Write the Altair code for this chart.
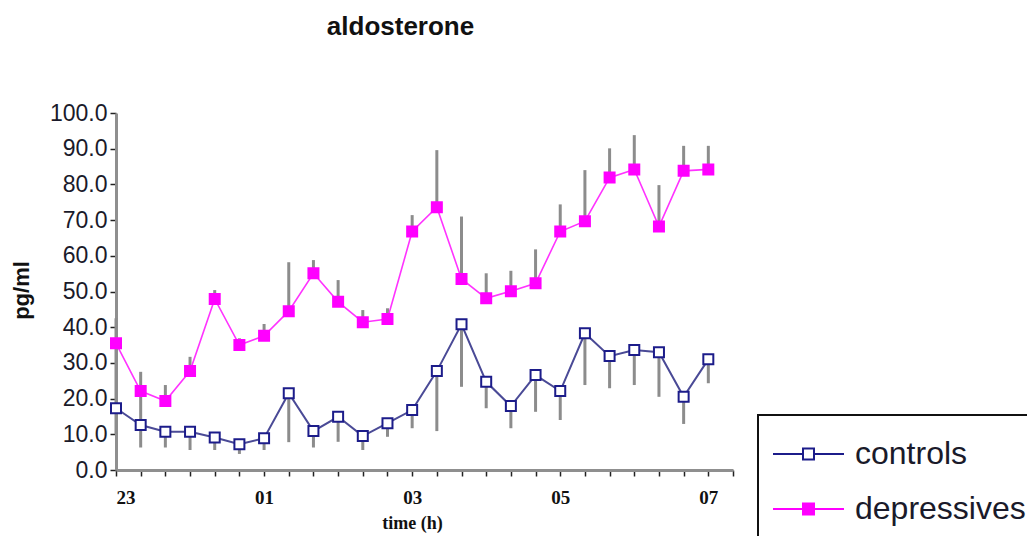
import altair as alt
import pandas as pd

# ---- data (20-minute samples, 23:00 -> 07:00) ----
hour_labels = ["23", "01", "03", "05", "07"]
slots = list(range(25))

controls = [17.3, 12.6, 10.7, 10.7, 9.1, 7.2, 8.9, 21.5, 10.9, 14.9, 9.5, 13.1, 16.8,
            27.7, 40.8, 24.7, 17.9, 26.6, 22.1, 38.3, 31.9, 33.6, 33.0, 20.5, 31.0]
controls_err_lo = [10.0, 6.3, 6.3, 5.6, 5.6, 4.5, 5.6, 7.8, 6.3, 7.9, 5.6, 9.3, 11.7,
                   10.9, 23.3, 17.3, 11.7, 16.3, 14.0, 23.8, 22.9, 23.8, 20.5, 12.9, 24.3]

depressives = [35.5, 22.1, 19.3, 27.7, 47.9, 35.0, 37.6, 44.5, 55.1, 47.1, 41.4, 42.3, 66.8,
               73.6, 53.5, 48.1, 50.1, 52.3, 66.8, 69.7, 81.9, 84.2, 68.2, 83.8, 84.2]
depressives_err_hi = [42.5, 27.5, 23.8, 31.7, 50.4, 36.9, 40.9, 58.2, 58.8, 53.2, 44.8, 45.3, 71.4,
                      89.6, 71.0, 55.1, 55.8, 61.8, 74.4, 84.0, 90.1, 93.8, 79.8, 90.8, 90.8]
depressives_err_lo = [17.3, 12.6] + depressives[2:]

series_names = ["controls", "depressives"]
stroke_colors = ["#1c1c8a", "#ff00ff"]
fill_colors = ["#ffffff", "#ff00ff"]
line_colors = ["#4a4a96", "#ff33ff"]

rows = []
for i in slots:
    rows.append(dict(t=i, series="controls", v=controls[i], lo=controls_err_lo[i], hi=controls[i]))
    rows.append(dict(t=i, series="depressives", v=depressives[i], lo=depressives_err_lo[i],
                     hi=depressives_err_hi[i]))
df = pd.DataFrame(rows)

label_map = "{" + ",".join(f"'{i * 6}':'{h}'" for i, h in enumerate(hour_labels)) + "}"
label_expr = f"({label_map})[''+datum.value] || ''"

x_enc = alt.X(
    "t:Q",
    scale=alt.Scale(domain=[0, 25], nice=False, zero=False),
    axis=alt.Axis(
        values=list(range(26)),
        labelExpr=label_expr,
        title="time (h)",
        titleFont="Liberation Serif",
        titleFontSize=18,
        titleFontWeight="bold",
        titleColor="#111111",
        titlePadding=7,
        titleX=296,
        labelFont="Liberation Serif",
        labelFontSize=19,
        labelFontWeight="bold",
        labelColor="#111111",
        labelPadding=12,
        tickSize=6,
        grid=False,
    ),
)

y_axis = alt.Axis(
    values=[0, 10, 20, 30, 40, 50, 60, 70, 80, 90, 100],
    format=".1f",
    title="pg/ml",
    titleFont="Liberation Sans",
    titleFontSize=22,
    titleFontWeight="bold",
    titleColor="#111111",
    titleX=-95,
    titleY=177,
    titleAngle=270,
    titleAlign="center",
    titleBaseline="middle",
    labelFont="Liberation Sans",
    labelFontSize=23,
    labelColor="#1a1a2a",
    labelPadding=3,
    tickSize=6,
    grid=False,
)
y_scale = alt.Scale(domain=[0, 100], nice=False)

base = alt.Chart(df)

errbars = base.mark_rule(color="#8c8c8c", strokeWidth=3).encode(
    x=x_enc,
    y=alt.Y("lo:Q", scale=y_scale, axis=y_axis),
    y2="hi:Q",
)

line_ctrl = base.transform_filter(alt.datum.series == "controls").mark_line(
    color=line_colors[0], strokeWidth=2
).encode(x=x_enc, y=alt.Y("v:Q", scale=y_scale, axis=y_axis))

line_dep = base.transform_filter(alt.datum.series == "depressives").mark_line(
    color=line_colors[1], strokeWidth=1.6
).encode(x=x_enc, y=alt.Y("v:Q", scale=y_scale, axis=y_axis))

symbol_path = "M-1,0H0.25M0.708,0H1.958M0.25,-0.229H0.708V0.229H0.25Z"
legend = alt.Legend(
    orient="none",
    legendX=642,
    legendY=302,
    title=None,
    symbolType=symbol_path,
    symbolSize=2304,
    symbolStrokeWidth=2,
    labelFont="Liberation Sans",
    labelFontSize=32,
    labelColor="#1a1a2a",
    labelOffset=33,
    labelLimit=400,
    rowPadding=14,
    padding=14,
    strokeColor="#111111",
    fillColor="#ffffff",
)

points = base.mark_point(shape="square", opacity=1, strokeWidth=2, size=100).encode(
    x=x_enc,
    y=alt.Y("v:Q", scale=y_scale, axis=y_axis),
    stroke=alt.Stroke("series:N", scale=alt.Scale(domain=series_names, range=stroke_colors), legend=legend),
    fill=alt.Fill("series:N", scale=alt.Scale(domain=series_names, range=fill_colors), legend=legend),
)

chart = (
    alt.layer(errbars, line_ctrl, line_dep, points)
    .properties(
        width=617,
        height=357,
        title=alt.TitleParams(
            "aldosterone",
            font="Liberation Sans",
            fontSize=26,
            fontWeight="bold",
            color="#111111",
            anchor="middle",
            dx=-24,
            offset=62,
        ),
        autosize=alt.AutoSizeParams(type="none"),
        padding={"left": 108, "top": 105, "right": 294, "bottom": 66},
    )
    .configure_view(stroke=None)
    .configure_axis(
        domainColor="#8f8f8f",
        domainWidth=3,
        tickColor="#222222",
        tickWidth=1.5,
    )
    .configure_legend(strokeWidth=2)
)

chart.save("out.html", embed_options={"renderer": "svg", "actions": False})
